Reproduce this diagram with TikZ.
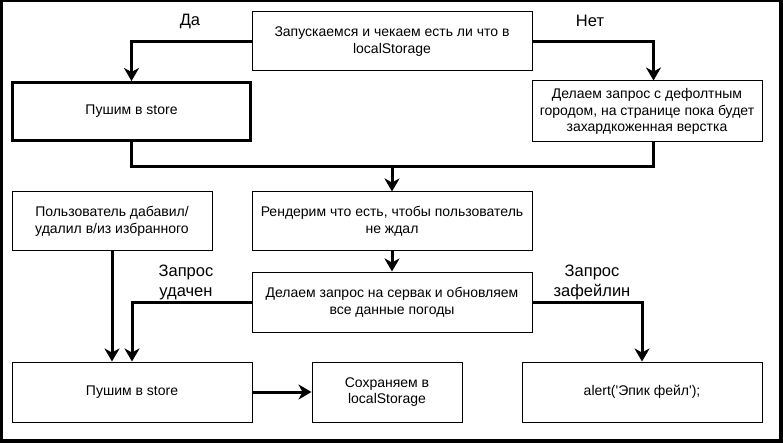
\documentclass[tikz,border=0pt]{standalone}
\usepackage{fontspec}
\setmainfont{Liberation Sans}
\usetikzlibrary{arrows.meta}
\begin{document}
\begin{tikzpicture}[x=1pt,y=-1pt,
  box/.style={draw, line width=1pt, align=center, inner sep=0pt,
    font=\fontsize{14}{16.7}\selectfont},
  thickbox/.style={box, line width=3pt},
  conn/.style={line width=3pt},
  arr/.style={conn, -{Stealth[length=13pt, width=15pt, inset=4pt]}},
  lbl/.style={align=center, inner sep=0pt, font=\fontsize{16.5}{20}\selectfont}]
\fill[black] (0,0) rectangle (783,443);
\fill[white] (3,2.5) rectangle (779,439);
\useasboundingbox (0,0) rectangle (783,443);

\node[box, minimum width=280pt, minimum height=59pt] (start) at (392,41.5)
  {Запускаемся и чекаем есть ли что в\\localStorage};
\node[thickbox, minimum width=238pt, minimum height=58pt] (push1) at (131.5,111.5)
  {Пушим в store};
\node[box, minimum width=230pt, minimum height=61pt] (default) at (647,111.5)
  {Делаем запрос с дефолтным\\городом, на странице пока будет\\захардкоженная верстка};
\node[box, minimum width=200pt, minimum height=59pt] (user) at (112,221.5)
  {Пользователь дабавил/\\удалил в/из избранного};
\node[box, minimum width=280pt, minimum height=59pt] (render) at (392,221.5)
  {Рендерим что есть, чтобы пользователь\\не ждал};
\node[box, minimum width=280pt, minimum height=60pt] (request) at (392,302)
  {Делаем запрос на сервак и обновляем\\все данные погоды};
\node[box, minimum width=240pt, minimum height=60pt] (push2) at (132,392)
  {Пушим в store};
\node[box, minimum width=150pt, minimum height=60pt] (save) at (387,392)
  {Сохраняем в\\localStorage};
\node[box, minimum width=240pt, minimum height=60pt] (alert) at (642,392)
  {alert(\textquotesingle Эпик фейл\textquotesingle);};

\node[lbl] (yes) at (190,21) {Да};
\node[lbl] (no) at (590,21) {Нет};
\node[lbl] (ok) at (186,282) {Запрос\\удачен};
\node[lbl] (fail) at (592,282) {Запрос\\зафейлин};

\coordinate (merge) at (392,167);
\draw[arr] (start.west) -| (push1.north);
\draw[arr] (start.east) -| ([xshift=6.5pt]default.north);
\draw[conn] (push1.south) |- (merge);
\draw[conn] ([xshift=6.5pt]default.south) |- (merge);
\draw[arr] (merge) -- (render.north);
\draw[arr] (render.south) -- (request.north);
\draw[arr] (user.south) -- (user.south |- push2.north);
\draw[arr] (request.west) -| (push2.north);
\draw[arr] (request.east) -| (alert.north);
\draw[arr] (push2.east) -- (save.west);
\end{tikzpicture}
\end{document}
